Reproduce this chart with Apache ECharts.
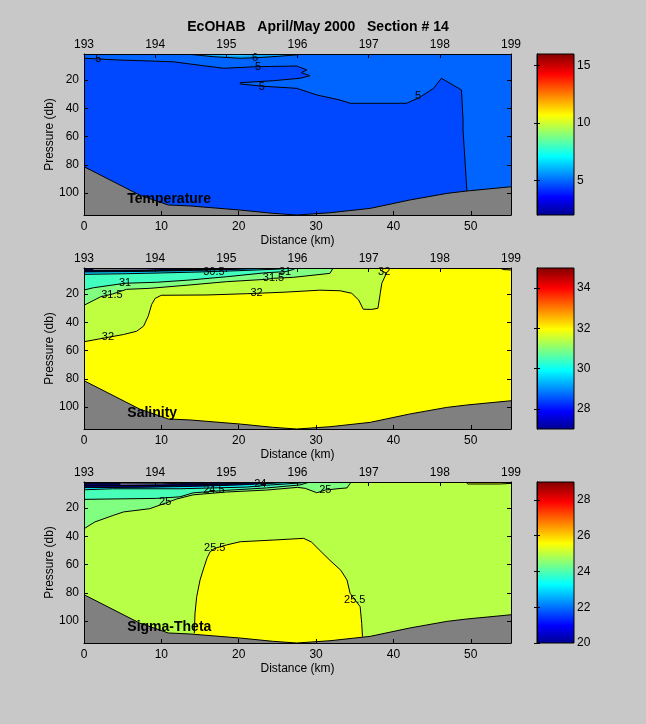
<!DOCTYPE html>
<html>
<head>
<meta charset="utf-8">
<script src="https://cdn.jsdelivr.net/npm/echarts@6/dist/echarts.min.js"></script>
<style>
html,body{margin:0;padding:0;background:#c8c8c8;}
#c{width:646px;height:724px;}
</style>
</head>
<body>
<div id="c"></div>
<script>
// ---------------- data ----------------
const figureTitle = 'EcOHAB   April/May 2000   Section # 14';
const panelNames = ['Temperature', 'Salinity', 'Sigma-Theta'];
const distanceTicks = [0, 10, 20, 30, 40, 50];
const pressureTicks = [20, 40, 60, 80, 100];
const stationRange = [193, 199];
const distanceRange = [0, 55.2];
const pressureRange = [1.5, 115.5];
const colorbarRanges = [[2, 16], [27, 35], [20, 29]];
const colorbarTicks = [[5, 10, 15], [28, 30, 32, 34], [20, 22, 24, 26, 28]];

// sea floor (distance km, pressure db)
const bottomProfile = [[0,81.3],[7.2,101.4],[10.9,108.4],[13.7,109.1],[20.2,112],[24.4,114.3],[27.5,115.5],[31.8,113.9],[37,110.8],[42.1,104.9],[46.9,100.2],[49.5,98.5],[55.2,95.5]];

// Temperature contours
const temp5 = [[0,4.5],[1.85,5.0],[4.2,5.7],[11.5,7],[18,11.6],[22.3,10.5],[27.5,10],[28.8,12.8],[28.1,14.7],[29.2,16.9],[27.9,18.7],[24.5,20.4],[20.2,21.8],[20.2,22.7],[22.8,24.2],[27.5,25.8],[30.1,30.5],[33.1,34.1],[34.4,36.4],[41.7,36.4],[43.4,32.2],[45.2,25.8],[46.2,18.7],[48.8,27],[49.0,48.2],[49.0,55.3],[49.5,98.5]];
const temp6 = [[13.3,1.5],[16.7,3.4],[20.2,4.5],[22.3,4.1],[25,3.2],[28.8,1.5]];
const temp65 = [[14,1.5],[17,2.4],[20,2.8],[21.5,2.4],[22.5,1.5]];
const tempLabels = [[1.85,5.0,'5'],[22.5,10.5,'5'],[23,24.6,'5'],[43.2,31.2,'5'],[22.1,4.1,'6']];

// Salinity contours
const sal32 = [[0,53.7],[3.1,50.6],[5.1,48.6],[6.8,46.3],[7.7,42.7],[8.3,35.6],[8.75,27.3],[9.2,23],[10,20.8],[15.9,20.6],[21,19.7],[26,18.6],[30.5,17.2],[33.1,17.6],[34.6,19.4],[35.5,24.1],[36.1,30.7],[37.2,30.8],[38,30],[38.3,19.4],[38.5,12.3],[39.1,5.2],[38.3,2.9],[38.4,1.5]];
const sal315 = [[0,27.9],[2.1,22],[3.7,19.9],[5.5,16.6],[8.5,15.9],[13.7,13.5],[18.4,11.2],[23.6,9.5],[24.5,8.8],[27.1,8.1],[31.8,5.3],[32.2,1.5]];
const sal31 = [[0,17.1],[1.2,15.5],[5.3,12.3],[9.4,11.6],[13.7,10],[18.4,7.7],[23.6,4.8],[26,4.1],[27.1,2.5],[27.4,1.5]];
const sal305 = [[0,6],[5,5.6],[10,5],[15,4.3],[20,3.4],[25,2.3],[27,1.5]];
const sal30 = [[0,4.3],[6,4],[12,3.5],[18,2.7],[22,2],[24,1.5]];
const salWhite = [[1.2,1.5],[14,1.5],[8,2.6],[1.2,2.9]];
const salDense = [[[0,2.9],[8,3.0],[14,2.6],[20,1.5]],[[0,3.6],[10,3.3],[18,2.4],[23,1.5]]];
const sal325 = [[53.8,1.5],[54.2,2.6],[55.2,2.9]];
const salLabels = [[3.1,50.6,'32'],[22.3,19.4,'32'],[38.8,4.5,'32'],[3.6,20.6,'31.5'],[24.5,8.8,'31.5'],[5.3,12.3,'31'],[26,4.1,'31'],[16.8,4.5,'30.5']];

// Sigma-theta contours
const sig255 = [[14.26,108.6],[14.35,94.5],[14.57,82.7],[15.0,70.9],[15.4,63.8],[15.9,55.5],[16.3,50.9],[16.9,48.5],[18.4,46.1],[20.2,43.8],[24.5,42.6],[28.4,41.4],[29.4,44],[30.5,50],[31.8,57],[33.2,64],[34.0,70.9],[34.4,80.3],[35.7,89.8],[35.9,101.6],[36.0,111.1]];
const sig25 = [[0,34.6],[1.4,29.8],[3.8,25.1],[5.1,22.7],[8.5,20.4],[10.5,16.5],[12,13.5],[14.1,10.6],[18.4,8.6],[23.6,7.2],[27.6,5.3],[28.6,6],[30.1,9.1],[31.2,7.2],[33.1,6.1],[34,5.7],[34.4,2.5],[34.5,1.5]];
const sig245 = [[0,13.8],[9.4,13.1],[12.4,12],[14.1,9.2],[18.4,7.4],[23.6,5.7],[27.9,3.6],[29.2,1.5]];
const sig24 = [[0,7],[3.7,6.3],[12.4,6.3],[21,5.1],[23.6,3.8],[27.9,2.2],[28.7,1.5]];
const sigDark = [[0,5.5],[8,5.2],[14,4.6],[20,3.6],[25,2.2],[27,1.5]];
const sigWhite = [[4.7,1.5],[12.4,1.5],[12.4,3.0],[4.7,3.3]];
const sigDense = [[[0,2.8],[10,2.7],[18,2],[22,1.5]],[[0,4.2],[10,3.9],[18,3],[24,1.5]]];
const sigTopRight = [[49.4,1.5],[49.6,2.9],[53.8,2.9],[55.2,2.5]];
const sigLabels = [[10.5,15.7,'25'],[31.2,7.2,'25'],[16.8,7.0,'24.5'],[22.8,3.0,'24'],[16.9,48.5,'25.5'],[35.0,85,'25.5']];

// ---------------- chart ----------------
const FONT = 'Liberation Sans';
const X0 = distanceRange[0], X1 = distanceRange[1], P0 = pressureRange[0], P1 = pressureRange[1];
const panelTops = [54, 268, 482];
const jetStops = [
  {offset:0, color:'#00008f'},{offset:0.111, color:'#0000ff'},{offset:0.365, color:'#00ffff'},
  {offset:0.619, color:'#ffff00'},{offset:0.873, color:'#ff0000'},{offset:1, color:'#800000'}];

const grids = [], xAxes = [], yAxes = [], series = [];
const axisLineStyle = {show:true, lineStyle:{color:'#000', width:1}};
const labelStyle = {color:'#000', fontFamily:FONT, fontSize:12};

function domainRect(){ return [[X0,P0],[X1,P0],[X1,P1],[X0,P1]]; }
function above(c){ return [[X0,P0]].concat(c); }

function addPanel(i, layers){
  const top = panelTops[i];
  grids.push({left:84, top:top, width:427, height:161});
  const g = grids.length - 1;
  grids.push({left:537, top:top, width:37, height:161});
  const gc = grids.length - 1;
  const xi = xAxes.length, yi = yAxes.length;
  xAxes.push({type:'value', gridIndex:g, position:'bottom', min:X0, max:X1, z:100,
    axisLine:axisLineStyle, splitLine:{show:false},
    axisTick:{show:true, inside:true, length:4, customValues:distanceTicks, lineStyle:{color:'#000'}},
    axisLabel:Object.assign({margin:6, customValues:distanceTicks}, labelStyle),
    name:'Distance (km)', nameLocation:'middle', nameGap:20, nameMoveOverlap:false, nameTextStyle:labelStyle});
  xAxes.push({type:'value', gridIndex:g, position:'top', min:stationRange[0], max:stationRange[1], interval:1, z:100,
    axisLine:axisLineStyle, splitLine:{show:false},
    axisTick:{show:true, inside:true, length:4, lineStyle:{color:'#000'}},
    axisLabel:Object.assign({margin:3}, labelStyle)});
  xAxes.push({type:'value', gridIndex:gc, min:0, max:1, show:false});
  yAxes.push({type:'value', gridIndex:g, position:'left', inverse:true, min:P0, max:P1, z:100,
    axisLine:axisLineStyle, splitLine:{show:false},
    axisTick:{show:true, inside:true, length:4, customValues:pressureTicks, lineStyle:{color:'#000'}},
    axisLabel:Object.assign({margin:5, customValues:pressureTicks}, labelStyle),
    name:'Pressure (db)', nameLocation:'middle', nameRotate:90, nameGap:28, nameMoveOverlap:false, nameTextStyle:labelStyle});
  yAxes.push({type:'value', gridIndex:g, position:'right', inverse:true, min:P0, max:P1, z:100,
    axisLine:axisLineStyle, splitLine:{show:false},
    axisTick:{show:true, inside:true, length:4, customValues:pressureTicks, lineStyle:{color:'#000'}},
    axisLabel:{show:false}});
  const cb = colorbarRanges[i];
  yAxes.push({type:'value', gridIndex:gc, position:'right', min:cb[0], max:cb[1], z:100,
    axisLine:axisLineStyle, splitLine:{show:false},
    axisTick:{show:true, inside:true, length:3, customValues:colorbarTicks[i], lineStyle:{color:'#000'}},
    axisLabel:Object.assign({margin:3, customValues:colorbarTicks[i]}, labelStyle)});
  yAxes.push({type:'value', gridIndex:gc, position:'left', min:cb[0], max:cb[1], z:100,
    axisLine:axisLineStyle, splitLine:{show:false},
    axisTick:{show:true, inside:true, length:3, customValues:colorbarTicks[i], lineStyle:{color:'#000'}},
    axisLabel:{show:false}});

  // colorbar
  series.push({type:'custom', xAxisIndex:xi+2, yAxisIndex:yi+2, data:[[0,cb[0]]], silent:true, animation:false, z:5,
    renderItem:(p, api)=>{
      const a = api.coord([0, cb[1]]), b = api.coord([1, cb[0]]);
      return {type:'rect', shape:{x:a[0], y:a[1], width:b[0]-a[0], height:b[1]-a[1]},
        style:{fill:{type:'linear', x:0, y:1, x2:0, y2:0, colorStops:jetStops}, stroke:'#000', lineWidth:1}};
    }});

  let z = 2;
  const poly = (pts, fill) => series.push({type:'custom', xAxisIndex:xi, yAxisIndex:yi, data:[[pts[0][0], pts[0][1]]],
    silent:true, animation:false, clip:true, z:z++,
    renderItem:(p, api)=>({type:'polygon', shape:{points:pts.map(q=>api.coord(q))}, style:{fill:fill}})});
  const line = (pts) => series.push({type:'custom', xAxisIndex:xi, yAxisIndex:yi, data:[[pts[0][0], pts[0][1]]],
    silent:true, animation:false, clip:true, z:z++,
    renderItem:(p, api)=>({type:'polyline', shape:{points:pts.map(q=>api.coord(q))}, style:{stroke:'#000', fill:null, lineWidth:1}})});
  const texts = (labels, font) => series.push({type:'custom', xAxisIndex:xi, yAxisIndex:yi, data:labels.map(l=>[l[0], l[1]]),
    silent:true, animation:false, clip:false, z:z++,
    renderItem:(p, api)=>{
      const c = api.coord([api.value(0), api.value(1)]);
      return {type:'text', x:c[0], y:c[1], style:{text:labels[p.dataIndex][2], font:font, fill:'#000',
        align:labels[p.dataIndex][3] || 'center', verticalAlign:'middle'}};
    }});

  layers.fills.forEach(f => poly(f[0], f[1]));
  // sea floor
  poly(bottomProfile.concat([[X1,P1],[X0,P1]]), '#808080');
  layers.lines.forEach(l => line(l));
  line(bottomProfile);
  texts(layers.labels, '11px "' + FONT + '"');
  texts([[5.6, 104.2, panelNames[i], 'left']], 'bold 14px "' + FONT + '"');
}

// Temperature
addPanel(0, {
  fills:[
    [domainRect(), '#0048ff'],
    [[[X0,P0]].concat(temp5, [[temp5[temp5.length-1][0], P1],[X1,P1],[X1,P0]]), '#0064ff'],
    [temp6, '#00a4ff'],
    [temp65, '#40ccff']
  ],
  lines:[temp5, temp6],
  labels:tempLabels
});

// Salinity
addPanel(1, {
  fills:[
    [domainRect(), '#ffff00'],
    [above(sal32), '#bfff40'],
    [above(sal315), '#80ff80'],
    [above(sal31), '#40ffbf'],
    [above(sal305), '#00d0ff'],
    [above(sal30), '#000080'],
    [salWhite, '#ffffff'],
    [sal325.concat([[X1,P0]]), '#ffbf00']
  ],
  lines:[sal32, sal315, sal31, sal305, sal30, salDense[0], salDense[1], sal325],
  labels:salLabels
});

// Sigma-theta
addPanel(2, {
  fills:[
    [domainRect(), '#b8ff47'],
    [above(sig25), '#80ff80'],
    [above(sig245), '#47ffb8'],
    [above(sig24), '#0ef0ff'],
    [above(sigDark), '#000080'],
    [sigWhite, '#ffffff'],
    [sig255.concat([[sig255[sig255.length-1][0], P1],[sig255[0][0], P1]]), '#ffff00'],
    [sigTopRight.concat([[X1,P0]]), '#ffff00']
  ],
  lines:[sig255, sig25, sig245, sig24, sigDark, sigDense[0], sigDense[1], sigTopRight],
  labels:sigLabels
});

const chart = echarts.init(document.getElementById('c'), null, {renderer:'canvas', width:646, height:724});
chart.setOption({
  backgroundColor:'#c8c8c8',
  animation:false,
  graphic:[{type:'text', x:318, y:27, style:{text:figureTitle, font:'bold 14px "' + FONT + '"', fill:'#000', align:'center', verticalAlign:'middle'}}],
  grid:grids, xAxis:xAxes, yAxis:yAxes, series:series
});
</script>
</body>
</html>
